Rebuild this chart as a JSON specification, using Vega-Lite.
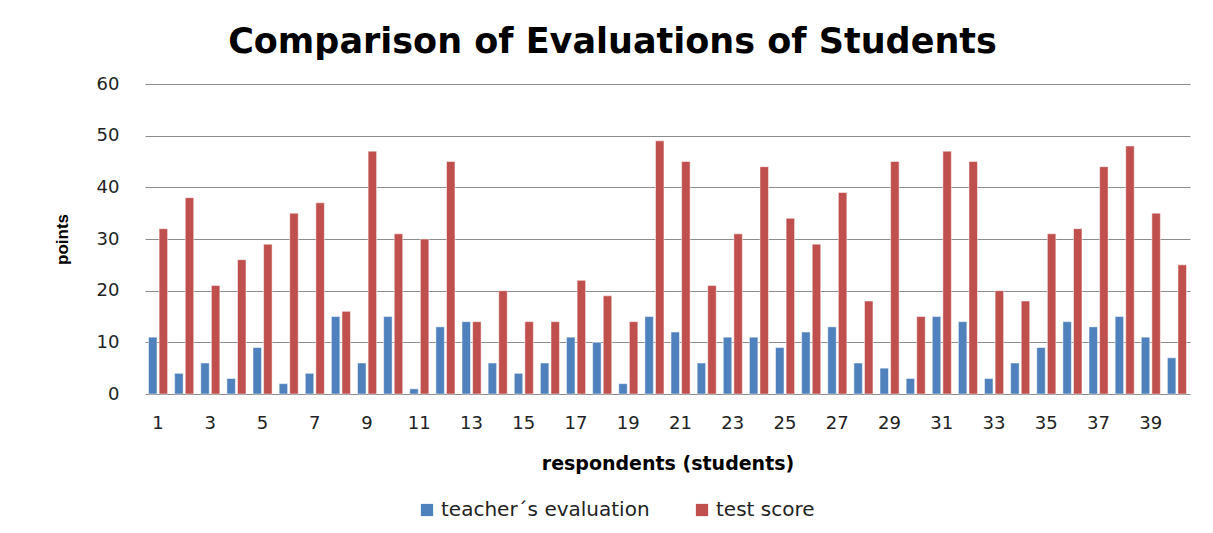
{
  "$schema": "https://vega.github.io/schema/vega-lite/v6.json",
  "autosize": "none",
  "width": 1045,
  "height": 310,
  "padding": {"left": 145, "top": 84, "right": 23, "bottom": 139},
  "background": "white",
  "title": {
    "text": "Comparison of Evaluations of Students",
    "font": "DejaVu Sans",
    "fontSize": 35,
    "fontWeight": "bold",
    "color": "#000000",
    "anchor": "middle",
    "dx": -55,
    "offset": 15
  },
  "data": {
    "values": [
      {"respondent": 1, "teacher´s evaluation": 11, "test score": 32},
      {"respondent": 2, "teacher´s evaluation": 4, "test score": 38},
      {"respondent": 3, "teacher´s evaluation": 6, "test score": 21},
      {"respondent": 4, "teacher´s evaluation": 3, "test score": 26},
      {"respondent": 5, "teacher´s evaluation": 9, "test score": 29},
      {"respondent": 6, "teacher´s evaluation": 2, "test score": 35},
      {"respondent": 7, "teacher´s evaluation": 4, "test score": 37},
      {"respondent": 8, "teacher´s evaluation": 15, "test score": 16},
      {"respondent": 9, "teacher´s evaluation": 6, "test score": 47},
      {"respondent": 10, "teacher´s evaluation": 15, "test score": 31},
      {"respondent": 11, "teacher´s evaluation": 1, "test score": 30},
      {"respondent": 12, "teacher´s evaluation": 13, "test score": 45},
      {"respondent": 13, "teacher´s evaluation": 14, "test score": 14},
      {"respondent": 14, "teacher´s evaluation": 6, "test score": 20},
      {"respondent": 15, "teacher´s evaluation": 4, "test score": 14},
      {"respondent": 16, "teacher´s evaluation": 6, "test score": 14},
      {"respondent": 17, "teacher´s evaluation": 11, "test score": 22},
      {"respondent": 18, "teacher´s evaluation": 10, "test score": 19},
      {"respondent": 19, "teacher´s evaluation": 2, "test score": 14},
      {"respondent": 20, "teacher´s evaluation": 15, "test score": 49},
      {"respondent": 21, "teacher´s evaluation": 12, "test score": 45},
      {"respondent": 22, "teacher´s evaluation": 6, "test score": 21},
      {"respondent": 23, "teacher´s evaluation": 11, "test score": 31},
      {"respondent": 24, "teacher´s evaluation": 11, "test score": 44},
      {"respondent": 25, "teacher´s evaluation": 9, "test score": 34},
      {"respondent": 26, "teacher´s evaluation": 12, "test score": 29},
      {"respondent": 27, "teacher´s evaluation": 13, "test score": 39},
      {"respondent": 28, "teacher´s evaluation": 6, "test score": 18},
      {"respondent": 29, "teacher´s evaluation": 5, "test score": 45},
      {"respondent": 30, "teacher´s evaluation": 3, "test score": 15},
      {"respondent": 31, "teacher´s evaluation": 15, "test score": 47},
      {"respondent": 32, "teacher´s evaluation": 14, "test score": 45},
      {"respondent": 33, "teacher´s evaluation": 3, "test score": 20},
      {"respondent": 34, "teacher´s evaluation": 6, "test score": 18},
      {"respondent": 35, "teacher´s evaluation": 9, "test score": 31},
      {"respondent": 36, "teacher´s evaluation": 14, "test score": 32},
      {"respondent": 37, "teacher´s evaluation": 13, "test score": 44},
      {"respondent": 38, "teacher´s evaluation": 15, "test score": 48},
      {"respondent": 39, "teacher´s evaluation": 11, "test score": 35},
      {"respondent": 40, "teacher´s evaluation": 7, "test score": 25}
    ]
  },
  "transform": [
    {"fold": ["teacher´s evaluation", "test score"], "as": ["series", "points"]}
  ],
  "mark": {"type": "bar", "stroke": "#ffffff", "strokeWidth": 0.7, "strokeOpacity": 0.7},
  "encoding": {
    "x": {
      "field": "respondent",
      "type": "ordinal",
      "scale": {"paddingInner": 0.27, "paddingOuter": 0.135},
      "axis": {
        "values": [1, 3, 5, 7, 9, 11, 13, 15, 17, 19, 21, 23, 25, 27, 29, 31, 33, 35, 37, 39],
        "labelAngle": 0,
        "labelFont": "DejaVu Sans",
        "labelFontSize": 18,
        "labelColor": "#222222",
        "labelPadding": 20,
        "ticks": false,
        "domain": false,
        "title": "respondents (students)",
        "titleFont": "DejaVu Sans",
        "titleFontSize": 19,
        "titleFontWeight": "bold",
        "titleColor": "#000000",
        "titleY": 69,
        "titleBaseline": "middle"
      }
    },
    "xOffset": {
      "field": "series",
      "type": "nominal",
      "sort": ["teacher´s evaluation", "test score"],
      "scale": {"paddingInner": 0.2}
    },
    "y": {
      "field": "points",
      "type": "quantitative",
      "scale": {"domain": [0, 60]},
      "axis": {
        "values": [0, 10, 20, 30, 40, 50, 60],
        "labelFont": "DejaVu Sans",
        "labelFontSize": 18,
        "labelColor": "#222222",
        "labelPadding": 26,
        "ticks": false,
        "domain": false,
        "grid": true,
        "gridColor": "#8c8c8c",
        "gridWidth": 1,
        "title": "points",
        "titleFont": "Liberation Sans",
        "titleFontSize": 17,
        "titleFontWeight": "bold",
        "titleColor": "#000000",
        "titleX": -83,
        "titleY": 155,
        "titleAngle": -90,
        "titleAlign": "center",
        "titleBaseline": "middle"
      }
    },
    "color": {
      "field": "series",
      "type": "nominal",
      "sort": ["teacher´s evaluation", "test score"],
      "scale": {"domain": ["teacher´s evaluation", "test score"], "range": ["#4F81BD", "#C0504D"]},
      "legend": {
        "title": null,
        "orient": "none",
        "legendX": 272,
        "legendY": 416,
        "direction": "horizontal",
        "symbolType": "square",
        "symbolSize": 150,
        "symbolStrokeWidth": 0,
        "labelFont": "DejaVu Sans",
        "labelFontSize": 20,
        "labelColor": "#222222",
        "labelOffset": 4,
        "labelLimit": 400,
        "columnPadding": 42
      }
    }
  },
  "config": {"view": {"stroke": null}}
}
